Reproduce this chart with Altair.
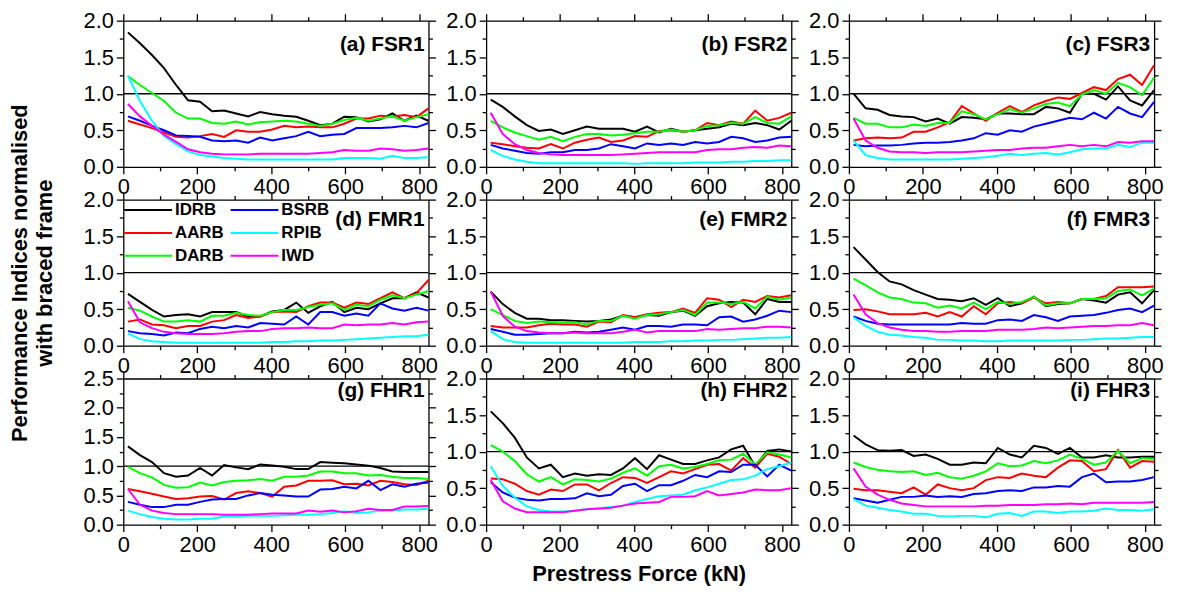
import altair as alt
import pandas as pd

FORCE = [12.5, 45, 77.5, 110, 142.5, 175, 207.5, 240, 272.5, 305, 337.5, 370, 402.5,
         435, 467.5, 500, 532.5, 565, 597.5, 630, 662.5, 695, 727.5, 760, 792.5, 825]
# legend fills column by column: IDRB/AARB/DARB in the first, BSRB/RPIB/IWD in the second
SERIES = ["IDRB", "AARB", "DARB", "BSRB", "RPIB", "IWD"]
COLORS = ["#000000", "#ff0000", "#00ff00", "#0000ff", "#00ffff", "#ff00ff"]

# (a) FSR1
FSR1_IDRB = [1.84, 1.69, 1.53, 1.35, 1.12, 0.91, 0.89, 0.76, 0.77, 0.73, 0.69, 0.75, 0.72, 0.70, 0.685, 0.63, 0.57, 0.59, 0.685, 0.68, 0.62, 0.65, 0.73, 0.63, 0.70, 0.63]
FSR1_DARB = [1.24, 1.12, 1.01, 0.90, 0.74, 0.66, 0.66, 0.60, 0.59, 0.62, 0.58, 0.61, 0.62, 0.63, 0.62, 0.59, 0.56, 0.59, 0.64, 0.67, 0.63, 0.66, 0.69, 0.63, 0.68, 0.72]
FSR1_AARB = [0.63, 0.58, 0.53, 0.47, 0.41, 0.40, 0.42, 0.45, 0.41, 0.50, 0.48, 0.48, 0.51, 0.56, 0.54, 0.55, 0.54, 0.54, 0.59, 0.66, 0.66, 0.70, 0.69, 0.71, 0.68, 0.80]
FSR1_BSRB = [0.69, 0.63, 0.56, 0.50, 0.43, 0.42, 0.41, 0.36, 0.35, 0.36, 0.33, 0.40, 0.36, 0.39, 0.42, 0.48, 0.42, 0.44, 0.45, 0.53, 0.53, 0.53, 0.54, 0.56, 0.54, 0.60]
FSR1_IWD = [0.86, 0.69, 0.56, 0.44, 0.34, 0.24, 0.20, 0.18, 0.17, 0.17, 0.17, 0.18, 0.18, 0.18, 0.18, 0.18, 0.19, 0.20, 0.23, 0.22, 0.22, 0.25, 0.24, 0.22, 0.23, 0.25]
FSR1_RPIB = [1.25, 0.90, 0.63, 0.42, 0.31, 0.21, 0.16, 0.14, 0.12, 0.11, 0.10, 0.10, 0.10, 0.10, 0.10, 0.10, 0.10, 0.10, 0.12, 0.12, 0.12, 0.11, 0.15, 0.12, 0.12, 0.13]

# (b) FSR2
FSR2_IDRB = [0.92, 0.82, 0.69, 0.57, 0.49, 0.51, 0.45, 0.50, 0.55, 0.52, 0.52, 0.52, 0.48, 0.55, 0.47, 0.52, 0.48, 0.50, 0.52, 0.54, 0.59, 0.57, 0.60, 0.57, 0.51, 0.63]
FSR2_DARB = [0.63, 0.54, 0.47, 0.42, 0.37, 0.41, 0.35, 0.41, 0.45, 0.45, 0.43, 0.44, 0.46, 0.48, 0.48, 0.51, 0.48, 0.50, 0.56, 0.57, 0.60, 0.59, 0.68, 0.60, 0.59, 0.69]
FSR2_AARB = [0.33, 0.31, 0.28, 0.26, 0.25, 0.31, 0.25, 0.33, 0.37, 0.40, 0.34, 0.36, 0.42, 0.41, 0.49, 0.50, 0.48, 0.50, 0.60, 0.57, 0.62, 0.59, 0.77, 0.63, 0.67, 0.74]
FSR2_BSRB = [0.30, 0.25, 0.22, 0.19, 0.18, 0.20, 0.20, 0.23, 0.23, 0.25, 0.31, 0.28, 0.25, 0.32, 0.30, 0.32, 0.30, 0.34, 0.32, 0.34, 0.41, 0.39, 0.34, 0.36, 0.40, 0.41]
FSR2_IWD = [0.74, 0.45, 0.31, 0.23, 0.19, 0.17, 0.16, 0.16, 0.16, 0.16, 0.16, 0.17, 0.18, 0.19, 0.20, 0.20, 0.20, 0.20, 0.23, 0.24, 0.24, 0.26, 0.27, 0.26, 0.29, 0.28]
FSR2_RPIB = [0.23, 0.15, 0.10, 0.07, 0.05, 0.05, 0.05, 0.05, 0.05, 0.05, 0.05, 0.05, 0.04, 0.05, 0.05, 0.05, 0.05, 0.06, 0.06, 0.06, 0.07, 0.07, 0.08, 0.08, 0.09, 0.09]

# (c) FSR3
FSR3_IDRB = [1.00, 0.80, 0.78, 0.71, 0.69, 0.68, 0.62, 0.66, 0.59, 0.68, 0.67, 0.65, 0.73, 0.73, 0.72, 0.72, 0.82, 0.80, 0.74, 1.00, 1.00, 0.92, 1.10, 0.91, 0.84, 1.05]
FSR3_AARB = [0.36, 0.39, 0.40, 0.39, 0.40, 0.48, 0.48, 0.54, 0.61, 0.83, 0.73, 0.63, 0.74, 0.83, 0.75, 0.84, 0.90, 0.95, 0.93, 1.01, 1.09, 1.05, 1.20, 1.26, 1.12, 1.39]
FSR3_DARB = [0.67, 0.59, 0.59, 0.54, 0.54, 0.58, 0.56, 0.60, 0.60, 0.76, 0.72, 0.65, 0.72, 0.79, 0.74, 0.80, 0.86, 0.88, 0.83, 0.99, 1.05, 1.00, 1.15, 1.09, 0.98, 1.22]
FSR3_BSRB = [0.30, 0.28, 0.29, 0.29, 0.30, 0.32, 0.33, 0.33, 0.34, 0.36, 0.39, 0.46, 0.44, 0.50, 0.48, 0.55, 0.59, 0.63, 0.67, 0.65, 0.74, 0.66, 0.82, 0.73, 0.68, 0.89]
FSR3_IWD = [0.66, 0.36, 0.26, 0.21, 0.20, 0.20, 0.19, 0.20, 0.20, 0.20, 0.21, 0.22, 0.23, 0.23, 0.25, 0.26, 0.26, 0.28, 0.30, 0.28, 0.30, 0.28, 0.34, 0.33, 0.35, 0.35]
FSR3_RPIB = [0.36, 0.16, 0.12, 0.10, 0.10, 0.10, 0.10, 0.10, 0.10, 0.11, 0.12, 0.13, 0.15, 0.18, 0.16, 0.18, 0.19, 0.17, 0.20, 0.24, 0.25, 0.25, 0.30, 0.27, 0.33, 0.33]

# (d) FMR1
FMR1_IDRB = [0.71, 0.60, 0.49, 0.40, 0.42, 0.43, 0.40, 0.46, 0.46, 0.46, 0.40, 0.40, 0.47, 0.49, 0.59, 0.45, 0.54, 0.60, 0.46, 0.52, 0.50, 0.58, 0.65, 0.65, 0.73, 0.66]
FMR1_AARB = [0.33, 0.36, 0.29, 0.28, 0.24, 0.27, 0.27, 0.33, 0.35, 0.42, 0.38, 0.40, 0.46, 0.47, 0.46, 0.54, 0.59, 0.59, 0.52, 0.59, 0.57, 0.65, 0.73, 0.65, 0.72, 0.90]
FMR1_DARB = [0.52, 0.48, 0.40, 0.33, 0.33, 0.35, 0.33, 0.41, 0.41, 0.45, 0.42, 0.41, 0.46, 0.49, 0.49, 0.53, 0.56, 0.58, 0.49, 0.56, 0.54, 0.63, 0.69, 0.65, 0.70, 0.75]
FMR1_BSRB = [0.20, 0.17, 0.16, 0.14, 0.18, 0.17, 0.23, 0.26, 0.24, 0.27, 0.25, 0.31, 0.30, 0.29, 0.40, 0.29, 0.46, 0.46, 0.41, 0.44, 0.41, 0.58, 0.51, 0.48, 0.52, 0.48]
FMR1_IWD = [0.61, 0.32, 0.24, 0.19, 0.17, 0.16, 0.16, 0.16, 0.17, 0.19, 0.20, 0.20, 0.23, 0.24, 0.24, 0.25, 0.24, 0.24, 0.29, 0.28, 0.29, 0.29, 0.31, 0.29, 0.32, 0.33]
FMR1_RPIB = [0.17, 0.09, 0.06, 0.05, 0.04, 0.04, 0.04, 0.04, 0.04, 0.04, 0.04, 0.04, 0.05, 0.05, 0.06, 0.06, 0.07, 0.07, 0.08, 0.09, 0.10, 0.11, 0.12, 0.13, 0.13, 0.15]

# (e) FMR2
FMR2_IDRB = [0.74, 0.57, 0.45, 0.37, 0.37, 0.35, 0.35, 0.34, 0.33, 0.34, 0.36, 0.41, 0.39, 0.42, 0.41, 0.46, 0.48, 0.41, 0.54, 0.58, 0.60, 0.59, 0.43, 0.64, 0.60, 0.60]
FMR2_AARB = [0.27, 0.25, 0.25, 0.25, 0.28, 0.30, 0.29, 0.29, 0.26, 0.33, 0.32, 0.42, 0.39, 0.43, 0.45, 0.46, 0.51, 0.45, 0.65, 0.63, 0.53, 0.63, 0.60, 0.68, 0.66, 0.69]
FMR2_DARB = [0.50, 0.42, 0.34, 0.31, 0.33, 0.32, 0.31, 0.32, 0.29, 0.34, 0.34, 0.41, 0.37, 0.42, 0.43, 0.46, 0.49, 0.42, 0.59, 0.59, 0.57, 0.60, 0.51, 0.67, 0.63, 0.66]
FMR2_BSRB = [0.23, 0.19, 0.15, 0.15, 0.16, 0.17, 0.17, 0.19, 0.18, 0.19, 0.22, 0.25, 0.22, 0.27, 0.27, 0.26, 0.29, 0.29, 0.28, 0.39, 0.40, 0.33, 0.36, 0.41, 0.48, 0.46]
FMR2_IWD = [0.74, 0.41, 0.26, 0.20, 0.18, 0.17, 0.17, 0.18, 0.17, 0.17, 0.17, 0.19, 0.22, 0.18, 0.20, 0.20, 0.20, 0.20, 0.23, 0.22, 0.23, 0.24, 0.24, 0.26, 0.26, 0.25]
FMR2_RPIB = [0.20, 0.09, 0.05, 0.04, 0.04, 0.04, 0.04, 0.04, 0.04, 0.04, 0.04, 0.04, 0.05, 0.05, 0.05, 0.06, 0.06, 0.07, 0.07, 0.08, 0.08, 0.09, 0.10, 0.11, 0.11, 0.12]

# (f) FMR3
FMR3_IDRB = [1.35, 1.18, 1.01, 0.88, 0.84, 0.76, 0.70, 0.64, 0.63, 0.61, 0.65, 0.56, 0.65, 0.54, 0.58, 0.67, 0.54, 0.57, 0.58, 0.64, 0.62, 0.59, 0.70, 0.73, 0.58, 0.76]
FMR3_DARB = [0.92, 0.83, 0.73, 0.66, 0.64, 0.59, 0.58, 0.52, 0.55, 0.51, 0.59, 0.50, 0.60, 0.57, 0.60, 0.67, 0.55, 0.58, 0.58, 0.64, 0.64, 0.65, 0.75, 0.77, 0.69, 0.78]
FMR3_AARB = [0.49, 0.50, 0.47, 0.43, 0.43, 0.43, 0.45, 0.40, 0.46, 0.40, 0.54, 0.43, 0.58, 0.60, 0.58, 0.66, 0.58, 0.60, 0.58, 0.64, 0.64, 0.68, 0.80, 0.80, 0.80, 0.81]
FMR3_BSRB = [0.40, 0.34, 0.30, 0.29, 0.29, 0.29, 0.29, 0.29, 0.29, 0.31, 0.30, 0.30, 0.35, 0.36, 0.34, 0.42, 0.39, 0.34, 0.40, 0.41, 0.42, 0.45, 0.49, 0.51, 0.46, 0.55]
FMR3_IWD = [0.70, 0.43, 0.31, 0.25, 0.22, 0.20, 0.20, 0.19, 0.19, 0.20, 0.20, 0.20, 0.22, 0.22, 0.22, 0.23, 0.25, 0.24, 0.25, 0.26, 0.27, 0.27, 0.28, 0.28, 0.31, 0.28]
FMR3_RPIB = [0.39, 0.27, 0.19, 0.15, 0.14, 0.12, 0.11, 0.08, 0.08, 0.07, 0.07, 0.06, 0.06, 0.07, 0.07, 0.07, 0.07, 0.07, 0.08, 0.08, 0.09, 0.10, 0.10, 0.11, 0.12, 0.12]

# (g) FHR1
FHR1_IDRB = [1.34, 1.19, 1.07, 0.88, 0.82, 0.84, 0.97, 0.84, 1.02, 0.98, 0.95, 1.03, 1.01, 0.99, 0.95, 0.95, 1.07, 1.06, 1.05, 1.03, 1.01, 0.97, 0.91, 0.90, 0.90, 0.90]
FHR1_DARB = [0.99, 0.88, 0.81, 0.68, 0.63, 0.64, 0.72, 0.67, 0.73, 0.75, 0.76, 0.78, 0.75, 0.82, 0.82, 0.84, 0.91, 0.91, 0.88, 0.88, 0.84, 0.85, 0.82, 0.80, 0.80, 0.78]
FHR1_AARB = [0.61, 0.57, 0.53, 0.48, 0.44, 0.45, 0.48, 0.49, 0.43, 0.54, 0.57, 0.54, 0.48, 0.65, 0.67, 0.75, 0.75, 0.76, 0.69, 0.70, 0.67, 0.75, 0.73, 0.69, 0.68, 0.75]
FHR1_BSRB = [0.39, 0.34, 0.30, 0.30, 0.34, 0.34, 0.39, 0.43, 0.44, 0.44, 0.50, 0.54, 0.51, 0.50, 0.48, 0.48, 0.60, 0.61, 0.65, 0.62, 0.75, 0.59, 0.69, 0.65, 0.70, 0.72]
FHR1_IWD = [0.61, 0.34, 0.24, 0.20, 0.18, 0.18, 0.18, 0.18, 0.17, 0.17, 0.17, 0.18, 0.19, 0.19, 0.19, 0.24, 0.22, 0.24, 0.21, 0.23, 0.27, 0.25, 0.25, 0.31, 0.31, 0.32]
FHR1_RPIB = [0.24, 0.18, 0.13, 0.10, 0.09, 0.09, 0.10, 0.10, 0.14, 0.14, 0.15, 0.15, 0.15, 0.16, 0.17, 0.17, 0.18, 0.20, 0.23, 0.20, 0.21, 0.24, 0.24, 0.26, 0.26, 0.27]

# (h) FHR2
FHR2_IDRB = [1.55, 1.39, 1.19, 0.92, 0.77, 0.82, 0.65, 0.70, 0.67, 0.69, 0.68, 0.77, 0.91, 0.76, 0.95, 0.89, 0.83, 0.83, 0.88, 0.92, 1.03, 1.08, 0.80, 1.01, 1.03, 1.00]
FHR2_DARB = [1.09, 1.00, 0.87, 0.69, 0.59, 0.65, 0.55, 0.62, 0.61, 0.59, 0.63, 0.71, 0.77, 0.67, 0.80, 0.82, 0.77, 0.79, 0.83, 0.88, 0.89, 0.97, 0.82, 0.99, 0.96, 0.92]
FHR2_AARB = [0.63, 0.62, 0.56, 0.46, 0.41, 0.48, 0.46, 0.55, 0.55, 0.47, 0.57, 0.65, 0.64, 0.57, 0.65, 0.73, 0.70, 0.76, 0.82, 0.83, 0.74, 0.91, 0.78, 0.97, 0.93, 0.83]
FHR2_BSRB = [0.58, 0.44, 0.37, 0.34, 0.33, 0.35, 0.35, 0.36, 0.43, 0.39, 0.41, 0.53, 0.56, 0.46, 0.54, 0.54, 0.60, 0.68, 0.65, 0.73, 0.72, 0.82, 0.82, 0.66, 0.82, 0.74]
FHR2_RPIB = [0.80, 0.53, 0.37, 0.25, 0.20, 0.18, 0.18, 0.19, 0.21, 0.22, 0.24, 0.26, 0.31, 0.35, 0.39, 0.40, 0.41, 0.47, 0.51, 0.56, 0.61, 0.62, 0.67, 0.76, 0.80, 0.85]
FHR2_IWD = [0.61, 0.32, 0.22, 0.17, 0.17, 0.17, 0.17, 0.19, 0.21, 0.22, 0.23, 0.26, 0.29, 0.30, 0.31, 0.38, 0.38, 0.39, 0.46, 0.40, 0.42, 0.44, 0.48, 0.47, 0.47, 0.50]

# (i) FHR3
FHR3_IDRB = [1.22, 1.10, 1.02, 1.01, 1.02, 0.94, 0.96, 0.90, 0.82, 0.82, 0.85, 0.84, 1.05, 0.96, 0.92, 1.08, 1.05, 0.97, 1.05, 0.92, 0.92, 0.95, 0.92, 0.92, 0.93, 0.93]
FHR3_DARB = [0.85, 0.79, 0.75, 0.73, 0.72, 0.73, 0.68, 0.71, 0.65, 0.63, 0.67, 0.73, 0.84, 0.80, 0.81, 0.87, 0.84, 0.88, 0.96, 0.90, 0.82, 0.85, 1.01, 0.84, 0.91, 0.90]
FHR3_AARB = [0.49, 0.47, 0.47, 0.45, 0.43, 0.51, 0.41, 0.55, 0.50, 0.47, 0.50, 0.61, 0.65, 0.64, 0.70, 0.67, 0.65, 0.78, 0.88, 0.87, 0.73, 0.76, 1.02, 0.78, 0.87, 0.86]
FHR3_BSRB = [0.36, 0.33, 0.30, 0.34, 0.38, 0.38, 0.40, 0.38, 0.39, 0.38, 0.42, 0.43, 0.46, 0.47, 0.46, 0.51, 0.51, 0.53, 0.52, 0.65, 0.70, 0.58, 0.59, 0.59, 0.61, 0.65]
FHR3_IWD = [0.77, 0.52, 0.41, 0.34, 0.29, 0.27, 0.25, 0.25, 0.25, 0.25, 0.25, 0.26, 0.26, 0.27, 0.27, 0.27, 0.28, 0.28, 0.29, 0.28, 0.30, 0.30, 0.30, 0.30, 0.30, 0.31]
FHR3_RPIB = [0.35, 0.26, 0.23, 0.20, 0.18, 0.15, 0.15, 0.12, 0.11, 0.12, 0.12, 0.10, 0.15, 0.16, 0.12, 0.18, 0.18, 0.16, 0.18, 0.18, 0.19, 0.22, 0.20, 0.20, 0.19, 0.21]

X_MAJOR = [0, 200, 400, 600, 800]
X_MINOR = [100, 300, 500, 700]

FONT = "Liberation Sans"
W, H = 307, 147
MAJ, MIN = 7, 4


def long_df(series_lists):
    rows = []
    for name in SERIES:
        for f, v in zip(FORCE, series_lists[name]):
            rows.append({"force": f, "value": v, "series": name})
    return pd.DataFrame(rows)


def panel(label, series_lists, ymax, label_y, legend=False, ytitle=None, xtitle=None):
    df = long_df(series_lists)
    xs = alt.Scale(domain=[0, 825], nice=False, zero=False)
    ys = alt.Scale(domain=[0, ymax], nice=False)
    y_major = [k * 0.5 for k in range(int(round(ymax / 0.5)) + 1)]
    y_minor = [k * 0.5 + 0.25 for k in range(int(round(ymax / 0.5)))]

    if legend:
        leg = alt.Legend(orient="none", legendX=0, legendY=0, columns=2, title=None,
                         symbolType="stroke", symbolSize=2304, symbolStrokeWidth=2,
                         clipHeight=21,
                         labelFont=FONT, labelFontSize=17, labelFontWeight="bold",
                         labelColor="black", labelOffset=2, columnPadding=5,
                         rowPadding=2, padding=0)
    else:
        leg = None

    xaxis_main = alt.Axis(orient="bottom", values=X_MAJOR, tickSize=MAJ, labelPadding=3,
                          labelFlush=False, titleFontSize=22, titleFontWeight="bold",
                          titleFont=FONT, titlePadding=8, titleColor="black")
    yaxis_main = alt.Axis(orient="left", values=y_major, format=".1f", tickSize=MAJ,
                          labelPadding=3, titleFontSize=22, titleFontWeight="bold",
                          titleFont=FONT, titlePadding=27, titleLineHeight=25,
                          titleColor="black")

    lines = alt.Chart(df).mark_line(strokeWidth=2).encode(
        x=alt.X("force:Q", scale=xs, axis=xaxis_main, title=xtitle),
        y=alt.Y("value:Q", scale=ys, axis=yaxis_main, title=ytitle),
        color=alt.Color("series:N", scale=alt.Scale(domain=SERIES, range=COLORS),
                        legend=leg, sort=SERIES),
    )

    def ghost(xo, yo, xv, yv, tick, dom):
        return alt.Chart(df).mark_point(opacity=0).encode(
            x=alt.X("force:Q", scale=xs, title=None,
                    axis=alt.Axis(orient=xo, values=xv, labels=False, tickSize=tick,
                                  domain=dom)),
            y=alt.Y("value:Q", scale=ys, title=None,
                    axis=alt.Axis(orient=yo, values=yv, labels=False, tickSize=tick,
                                  domain=dom)),
        )

    g1 = ghost("top", "right", X_MAJOR, y_major, MAJ, True)
    g2 = ghost("bottom", "left", X_MINOR, y_minor, MIN, False)
    g3 = ghost("top", "right", X_MINOR, y_minor, MIN, False)

    ref = alt.Chart(pd.DataFrame({"ref": [1.0]})).mark_rule(
        color="black", strokeWidth=1.3).encode(
        y=alt.Y("ref:Q", scale=ys, axis=None))

    txt = alt.Chart(pd.DataFrame({"t": [label]})).mark_text(
        align="right", baseline="alphabetic", font=FONT, fontSize=21,
        fontWeight="bold", color="black").encode(
        text="t:N", x=alt.value(W - 4), y=alt.value(label_y))

    return alt.layer(ref, lines, g1, g2, g3, txt).resolve_axis(
        x="independent", y="independent").properties(width=W, height=H)


def sl(i, d, a, b, r, w):
    return {"IDRB": i, "DARB": d, "AARB": a, "BSRB": b, "RPIB": r, "IWD": w}


pa = panel("(a) FSR1", sl(FSR1_IDRB, FSR1_DARB, FSR1_AARB, FSR1_BSRB, FSR1_RPIB, FSR1_IWD), 2.0, 31)
pb = panel("(b) FSR2", sl(FSR2_IDRB, FSR2_DARB, FSR2_AARB, FSR2_BSRB, FSR2_RPIB, FSR2_IWD), 2.0, 31)
pc = panel("(c) FSR3", sl(FSR3_IDRB, FSR3_DARB, FSR3_AARB, FSR3_BSRB, FSR3_RPIB, FSR3_IWD), 2.0, 31)
pd_ = panel("(d) FMR1", sl(FMR1_IDRB, FMR1_DARB, FMR1_AARB, FMR1_BSRB, FMR1_RPIB, FMR1_IWD), 2.0, 27,
            legend=True, ytitle=["Performance Indices normalised", "with braced frame"])
pe = panel("(e) FMR2", sl(FMR2_IDRB, FMR2_DARB, FMR2_AARB, FMR2_BSRB, FMR2_RPIB, FMR2_IWD), 2.0, 27)
pf = panel("(f) FMR3", sl(FMR3_IDRB, FMR3_DARB, FMR3_AARB, FMR3_BSRB, FMR3_RPIB, FMR3_IWD), 2.0, 27)
pg = panel("(g) FHR1", sl(FHR1_IDRB, FHR1_DARB, FHR1_AARB, FHR1_BSRB, FHR1_RPIB, FHR1_IWD), 2.5, 19)
ph = panel("(h) FHR2", sl(FHR2_IDRB, FHR2_DARB, FHR2_AARB, FHR2_BSRB, FHR2_RPIB, FHR2_IWD), 2.0, 19,
           xtitle="Prestress Force (kN)")
pi = panel("(i) FHR3", sl(FHR3_IDRB, FHR3_DARB, FHR3_AARB, FHR3_BSRB, FHR3_RPIB, FHR3_IWD), 2.0, 19)

chart = alt.concat(pa, pb, pc, pd_, pe, pf, pg, ph, pi, columns=3,
                   spacing={"row": 33, "column": 58}, bounds="flush").resolve_scale(
    color="independent").resolve_legend(color="independent").properties(
    padding={"left": 0, "top": 0, "right": 5, "bottom": 5}
).configure_view(stroke=None).configure_axis(
    labelFont=FONT, labelFontSize=22, labelColor="black", tickColor="black",
    domainColor="black", tickWidth=1.3, domainWidth=1.3, grid=False,
    labelFlush=False
)

chart.save("out.html", embed_options={"renderer": "svg", "actions": False})
